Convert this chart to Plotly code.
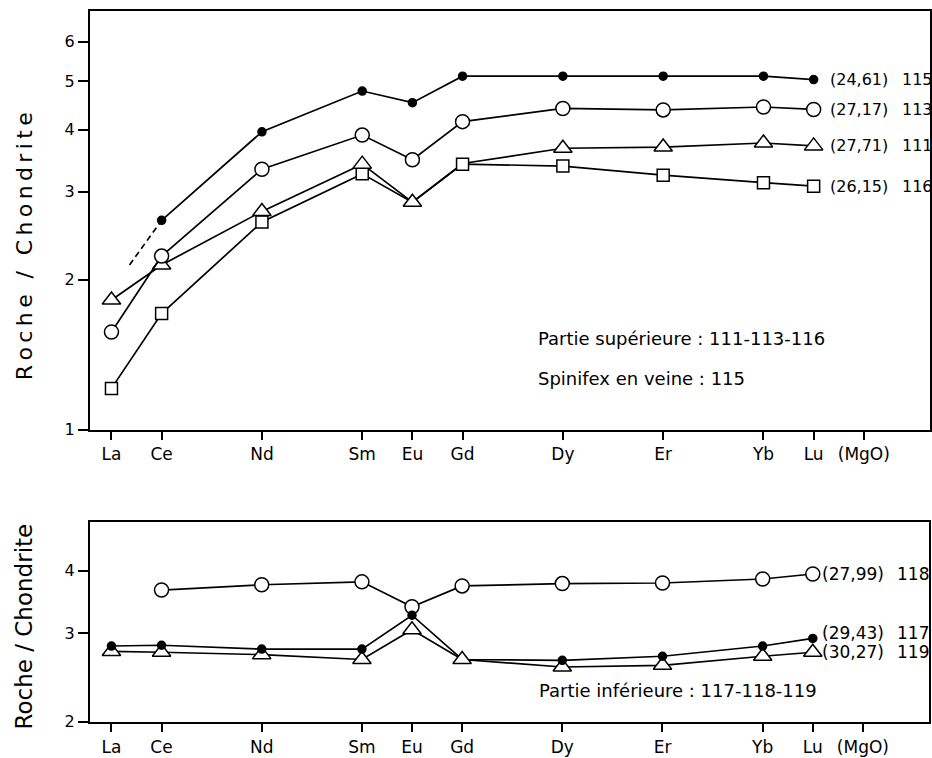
import math
import plotly.graph_objects as go

# ---------------- data ----------------
elements = ["La", "Ce", "Nd", "Sm", "Eu", "Gd", "Dy", "Er", "Yb", "Lu"]
elem_pos = [57, 58, 60, 62, 63, 64, 66, 68, 70, 71]          # atomic numbers
tick_pos = [57, 58, 60, 62, 63, 64, 66, 68, 70, 71, 72]
tick_labels = ["La", "Ce", "Nd", "Sm", "Eu", "Gd", "Dy", "Er", "Yb", "Lu", "(MgO)"]

# upper panel (Partie supérieure + spinifex en veine)
s115 = [None, 2.63, 3.96, 4.78, 4.53, 5.12, 5.12, 5.12, 5.12, 5.04]
s113 = [1.57, 2.23, 3.33, 3.90, 3.48, 4.15, 4.41, 4.38, 4.44, 4.39]
s111 = [1.82, 2.14, 2.74, 3.41, 2.86, 3.42, 3.67, 3.69, 3.76, 3.71]
s116 = [1.21, 1.71, 2.61, 3.26, 2.86, 3.41, 3.38, 3.24, 3.13, 3.08]
s115_extrap_x = [57.36, 58]
s115_extrap_y = [2.14, 2.63]
top_mgo = {"115": "(24,61)", "113": "(27,17)", "111": "(27,71)", "116": "(26,15)"}

# lower panel (Partie inférieure)
s118 = [None, 3.66, 3.75, 3.80, 3.39, 3.73, 3.77, 3.78, 3.85, 3.94]
s117 = [2.83, 2.84, 2.79, 2.79, 3.26, 2.66, 2.65, 2.70, 2.83, 2.93]
s119 = [2.76, 2.75, 2.72, 2.66, 3.05, 2.66, 2.57, 2.59, 2.70, 2.75]
bot_mgo = {"118": "(27,99)", "117": "(29,43)", "119": "(30,27)"}

top_yticks = [1, 2, 3, 4, 5, 6]
bot_yticks = [2, 3, 4]

# ---------------- figure ----------------
W, H = 932, 758
HV = 747.4          # effective drawn height used for placement
FONT = "DejaVu Sans"
LW = 1.7

def px(x):
    return x / W

def py(y):
    return 1 - y / HV

def hide(vals, name):
    """same series with the marker at one element left out (it is covered in the figure)"""
    k = elements.index(name)
    return [None if i == k else v for i, v in enumerate(vals)]

fig = go.Figure()

def add_series(x, y, xa, ya, symbol, size, fill, mode="lines+markers"):
    fig.add_trace(go.Scatter(
        x=x, y=y, xaxis=xa, yaxis=ya, mode=mode,
        line=dict(color="black", width=LW),
        marker=dict(symbol=symbol, size=size, color=fill,
                    line=dict(color="black", width=1.5)),
        connectgaps=False, showlegend=False, hoverinfo="skip"))

TRI = 16
# upper panel
add_series(elem_pos, s116, "x", "y", "square", 12, "white", mode="lines")
add_series(elem_pos, s111, "x", "y", "triangle-up", TRI, "white", mode="lines")
add_series(elem_pos, hide(s116, "Eu"), "x", "y", "square", 12, "white", mode="markers")
add_series(elem_pos, hide(s111, "Gd"), "x", "y", "triangle-up", TRI, "white", mode="markers")
add_series(elem_pos, s113, "x", "y", "circle", 14, "white")
fig.add_trace(go.Scatter(x=s115_extrap_x, y=s115_extrap_y, xaxis="x", yaxis="y",
                         mode="lines", line=dict(color="black", width=LW, dash="6px,4px"),
                         showlegend=False, hoverinfo="skip"))
add_series(elem_pos, s115, "x", "y", "circle", 8, "black")

# lower panel
add_series(elem_pos, s118, "x2", "y2", "circle", 14, "white")
add_series(elem_pos, s117, "x2", "y2", "circle", 8, "black", mode="lines")
add_series(elem_pos, s119, "x2", "y2", "triangle-up", TRI, "white")
add_series(elem_pos, hide(s117, "Gd"), "x2", "y2", "circle", 8, "black", mode="markers")

axis_common = dict(
    showline=True, linecolor="black", linewidth=2, mirror=True,
    ticks="outside", tickcolor="black", tickwidth=1.5,
    showgrid=False, zeroline=False,
)
xfont = dict(family=FONT, size=17, color="black")
yfont = dict(family=FONT, size=16, color="black")

xrange = [56.57, 73.32]
fig.update_layout(
    width=W, height=H, autosize=False,
    margin=dict(l=0, r=0, t=0, b=0),
    paper_bgcolor="white", plot_bgcolor="white",
    font=dict(family=FONT, color="black"),
    xaxis=dict(domain=[px(90), px(931)], range=xrange, tickvals=tick_pos,
               ticktext=tick_labels, anchor="y", ticklen=8, tickfont=xfont,
               ticklabelstandoff=0, **axis_common),
    yaxis=dict(domain=[py(429.3), py(11)], type="log", range=[0, 0.84],
               tickvals=top_yticks, ticktext=[str(v) for v in top_yticks],
               anchor="x", ticklen=10, tickfont=yfont, **axis_common),
    xaxis2=dict(domain=[px(90), px(930)], range=xrange, tickvals=tick_pos,
                ticktext=tick_labels, anchor="y2", ticklen=8, tickfont=xfont,
                ticklabelstandoff=1, **axis_common),
    yaxis2=dict(domain=[py(721), py(521.7)], type="log", range=[0.30103, 0.69897],
                tickvals=bot_yticks, ticktext=[str(v) for v in bot_yticks],
                anchor="x2", ticklen=10, tickfont=yfont, **axis_common),
)

top_font = dict(family=FONT, size=16, color="black")
bot_font = dict(family=FONT, size=17, color="black")

# right-hand labels, upper panel
top_series = {"115": s115, "113": s113, "111": s111, "116": s116}
for sid, vals in top_series.items():
    yv = math.log10(vals[-1])
    fig.add_annotation(x=71, y=yv, xref="x", yref="y", text=top_mgo[sid],
                       showarrow=False, xanchor="left", yanchor="middle",
                       xshift=14, font=top_font)
    fig.add_annotation(x=px(901), y=yv, xref="paper", yref="y", text=sid,
                       showarrow=False, xanchor="left", yanchor="middle", font=top_font)

bot_series = {"118": (s118, 0), "117": (s117, 5), "119": (s119, 0)}
for sid, (vals, ys) in bot_series.items():
    yv = math.log10(vals[-1])
    fig.add_annotation(x=71, y=yv, xref="x2", yref="y2", text=bot_mgo[sid],
                       showarrow=False, xanchor="left", yanchor="middle",
                       xshift=7, yshift=ys, font=bot_font)
    fig.add_annotation(x=px(896), y=yv, xref="paper", yref="y2", text=sid,
                       showarrow=False, xanchor="left", yanchor="middle", yshift=ys,
                       font=bot_font)

# panel notes
note_font = dict(family=FONT, size=18, color="black")
fig.add_annotation(x=px(537), y=py(338), xref="paper", yref="paper",
                   text="Partie supérieure : 111-113-116", showarrow=False,
                   xanchor="left", yanchor="middle", font=note_font)
fig.add_annotation(x=px(537), y=py(378), xref="paper", yref="paper",
                   text="Spinifex en veine : 115", showarrow=False,
                   xanchor="left", yanchor="middle", font=note_font)
fig.add_annotation(x=px(538), y=py(690), xref="paper", yref="paper",
                   text="Partie inférieure : 117-118-119", showarrow=False,
                   xanchor="left", yanchor="middle", font=note_font)

# y-axis titles
spaced = "\u2009".join("Roche / Chondrite")
fig.add_annotation(x=px(24), y=py(246), xref="paper", yref="paper", text=spaced,
                   showarrow=False, textangle=-90, xanchor="center", yanchor="middle",
                   font=dict(family=FONT, size=22, color="black"))
fig.add_annotation(x=px(24), y=py(626), xref="paper", yref="paper",
                   text="Roche / Chondrite", showarrow=False, textangle=-90,
                   xanchor="center", yanchor="middle",
                   font=dict(family=FONT, size=23, color="black"))

fig.write_html("out.html",
               config={"displayModeBar": False, "responsive": False},
               post_script="document.body.style.margin='0';document.body.style.overflow='hidden';")
